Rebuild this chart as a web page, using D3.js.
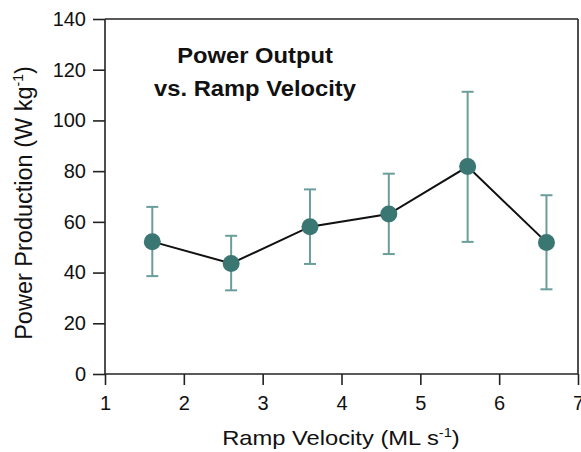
<!DOCTYPE html>
<html><head><meta charset="utf-8">
<script src="https://cdn.jsdelivr.net/npm/d3@7"></script>
<style>body{margin:0;background:#fff}svg{display:block}text{font-family:"Liberation Sans",Arial,Helvetica,sans-serif}</style>
</head><body>
<script>
const velocities = [1.6, 2.6, 3.6, 4.6, 5.6, 6.6];
const power = [52.2, 43.6, 58.1, 63.1, 81.8, 51.9];
const errUpper = [65.9, 54.5, 72.8, 79.0, 111.3, 70.5];
const errLower = [38.6, 33.0, 43.4, 47.3, 52.1, 33.4];
const xTicks = [1, 2, 3, 4, 5, 6, 7];
const yTicks = [0, 20, 40, 60, 80, 100, 120, 140];
const titleLines = ["Power Output", "vs. Ramp Velocity"];

const W = 581, H = 452;
const svg = d3.select("body").append("svg").attr("width", W).attr("height", H);
const x = d3.scaleLinear().domain([1, 7]).range([105, 578]);
const y = d3.scaleLinear().domain([0, 140]).range([374, 19]);
const axisColor = "#222";

// frame top and right
svg.append("line").attr("x1", x(1)).attr("x2", x(7)).attr("y1", y(140)).attr("y2", y(140))
  .attr("stroke", axisColor).attr("stroke-width", 1.6);
svg.append("line").attr("x1", x(7)).attr("x2", x(7)).attr("y1", y(140)).attr("y2", y(0))
  .attr("stroke", axisColor).attr("stroke-width", 1.6);

const xAxis = svg.append("g").attr("transform", `translate(0,${y(0)})`)
  .call(d3.axisBottom(x).tickValues(xTicks).tickFormat(d3.format("d")).tickSize(11).tickPadding(11));
const yAxis = svg.append("g").attr("transform", `translate(${x(1)},0)`)
  .call(d3.axisLeft(y).tickValues(yTicks).tickSize(12).tickPadding(7));
[xAxis, yAxis].forEach(a => {
  a.select(".domain").attr("stroke", axisColor).attr("stroke-width", 1.6);
  a.selectAll(".tick line").attr("stroke", axisColor).attr("stroke-width", 1.6);
  a.selectAll("text").attr("fill", "#111").style("font-family", '"Liberation Sans",Arial,sans-serif');
});
xAxis.selectAll("text").style("font-size", "20px");
yAxis.selectAll("text").style("font-size", "20px");
xAxis.select(".domain").attr("d", `M${x(1)},0H${x(7)}`);
yAxis.select(".domain").attr("d", `M0,${y(0)}V${y(140)}`);

// line
svg.append("path").datum(velocities.map((v, i) => [v, power[i]]))
  .attr("fill", "none").attr("stroke", "#111").attr("stroke-width", 2)
  .attr("d", d3.line().x(d => x(d[0])).y(d => y(d[1])));

// error bars
const errColor = "#6a9e9a";
const eb = svg.append("g").selectAll("g").data(velocities).join("g");
eb.append("line").attr("x1", d => x(d)).attr("x2", d => x(d))
  .attr("y1", (d, i) => y(errUpper[i])).attr("y2", (d, i) => y(errLower[i]))
  .attr("stroke", errColor).attr("stroke-width", 2);
eb.append("line").attr("x1", d => x(d) - 6).attr("x2", d => x(d) + 6)
  .attr("y1", (d, i) => y(errUpper[i])).attr("y2", (d, i) => y(errUpper[i]))
  .attr("stroke", errColor).attr("stroke-width", 2);
eb.append("line").attr("x1", d => x(d) - 6).attr("x2", d => x(d) + 6)
  .attr("y1", (d, i) => y(errLower[i])).attr("y2", (d, i) => y(errLower[i]))
  .attr("stroke", errColor).attr("stroke-width", 2);

// markers
svg.append("g").selectAll("circle").data(velocities).join("circle")
  .attr("cx", d => x(d)).attr("cy", (d, i) => y(power[i])).attr("r", 8.5)
  .attr("fill", "#3b7772");

// title
const tg = svg.append("g").attr("transform", "translate(255,0) scale(1.08,1)");
tg.selectAll("text").data(titleLines).join("text")
  .attr("x", 0).attr("y", (d, i) => 63 + i * 33)
  .attr("text-anchor", "middle").style("font-size", "22px").style("font-weight", "bold")
  .attr("fill", "#111").text(d => d);

// x label
const xl = svg.append("g").attr("transform", "translate(341,445) scale(1.13,1)")
  .append("text").attr("text-anchor", "middle").style("font-size", "21px").attr("fill", "#111");
xl.append("tspan").text("Ramp Velocity (ML s");
xl.append("tspan").attr("dy", -8).style("font-size", "13px").text("-1");
xl.append("tspan").attr("dy", 8).text(")");

// y label
const yl = svg.append("g").attr("transform", "translate(32,203) rotate(-90)")
  .append("text").attr("text-anchor", "middle").style("font-size", "23.5px").attr("fill", "#111");
yl.append("tspan").text("Power Production (W kg");
yl.append("tspan").attr("dy", -9).style("font-size", "14px").text("-1");
yl.append("tspan").attr("dy", 9).text(")");
</script>
</body></html>
